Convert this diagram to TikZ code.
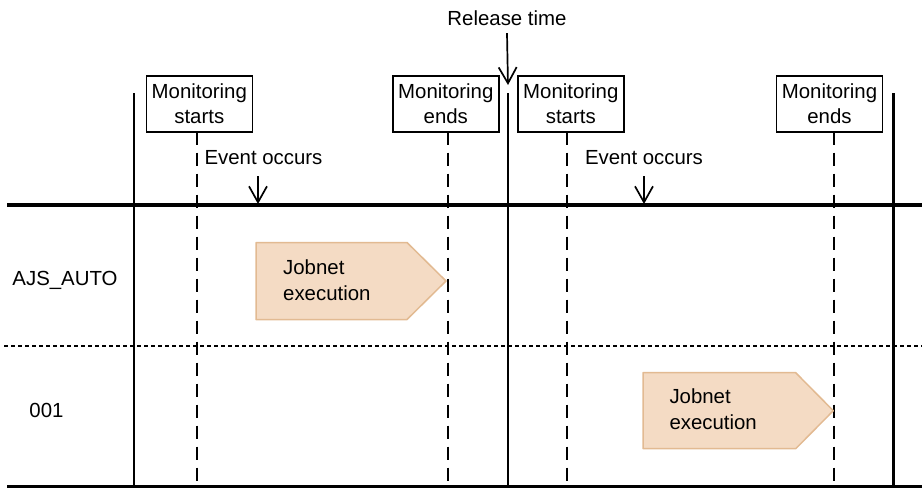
\documentclass[tikz,border=0pt]{standalone}
\usepackage{fontspec}
\setmainfont{Liberation Sans}
\usepackage{tikz}
\usetikzlibrary{arrows.meta}

\definecolor{jobfill}{RGB}{244,219,196}
\definecolor{jobedge}{RGB}{226,186,146}

\begin{document}
\begin{tikzpicture}[x=1pt,y=-1pt,
  every node/.style={font=\fontsize{20.4}{25.5}\selectfont,inner sep=0pt},
  monbox/.style={draw,line width=1.6pt,minimum width=106pt,minimum height=56pt,align=center},
  period/.style={line width=2.2pt},
  watch/.style={line width=2.2pt,dash pattern=on 13pt off 8pt},
  downarrow/.style={line width=1.7pt,-{Straight Barb[length=16pt,width=18pt]}},
  jobbox/.style={fill=jobfill,draw=jobedge,line width=1.5pt,line join=round}]

\useasboundingbox (0,0) rectangle (922,488);

% Release time
\node (release) at (507,18) {Release time};
\coordinate (relTip) at (508,85);
\draw[downarrow] ([yshift=-7.5pt]release.south) -- (relTip);

% Period borders
\draw[period] (134,93) -- (134,486.5);
\draw[period] (508,93) -- (508,486.5);
\draw[period] (893.5,93) -- (893.5,486.5);

% --- First period ---
\node[monbox] (startA) at (199.3,103.8) {Monitoring\\starts};
\node[monbox] (endA) at (445.8,103.8) {Monitoring\\ends};
\draw[watch] (197,131.7) -- (197,486.5);
\draw[watch] (447.7,131.7) -- (447.7,486.5);

% Event A
\node (eventA) at (263.5,158) {Event occurs};
\coordinate (eventAtop) at (258,176);
\coordinate (eventAtip) at (258,204);
\draw[downarrow] (eventAtop) -- (eventAtip);

% --- Second period ---
\node[monbox] (startB) at (570.8,103.8) {Monitoring\\starts};
\node[monbox] (endB) at (829.5,103.8) {Monitoring\\ends};
\draw[watch] (567.3,131.7) -- (567.3,486.5);
\draw[watch] (834,131.7) -- (834,486.5);

% Event B
\node (eventB) at (644,158) {Event occurs};
\coordinate (eventBtop) at (644,176);
\coordinate (eventBtip) at (644,204);
\draw[downarrow] (eventBtop) -- (eventBtip);

% Time line
\draw[line width=4pt] (7,204.7) -- (922,204.7);

% Rows
\node (rowAuto) at (65,280) {AJS\_AUTO};
\node (rowOne) at (46.5,410) {001};
\draw[line width=1.3pt,dash pattern=on 4pt off 3pt] (4,346) -- (922,346);
\draw[line width=2.5pt] (7,486.5) -- (922,486.5);

% Jobnet executions
\draw[jobbox] (256,242.5) -- (407,242.5) -- (446,281) -- (407,319.5) -- (256,319.5) -- cycle;
\node[anchor=west,align=left] (runA) at (283,280.3) {Jobnet\\execution};

\draw[jobbox] (643,372.7) -- (795.7,372.7) -- (833.3,410.7) -- (795.7,448.7) -- (643,448.7) -- cycle;
\node[anchor=west,align=left] (runB) at (669.3,409.2) {Jobnet\\execution};

\end{tikzpicture}
\end{document}
